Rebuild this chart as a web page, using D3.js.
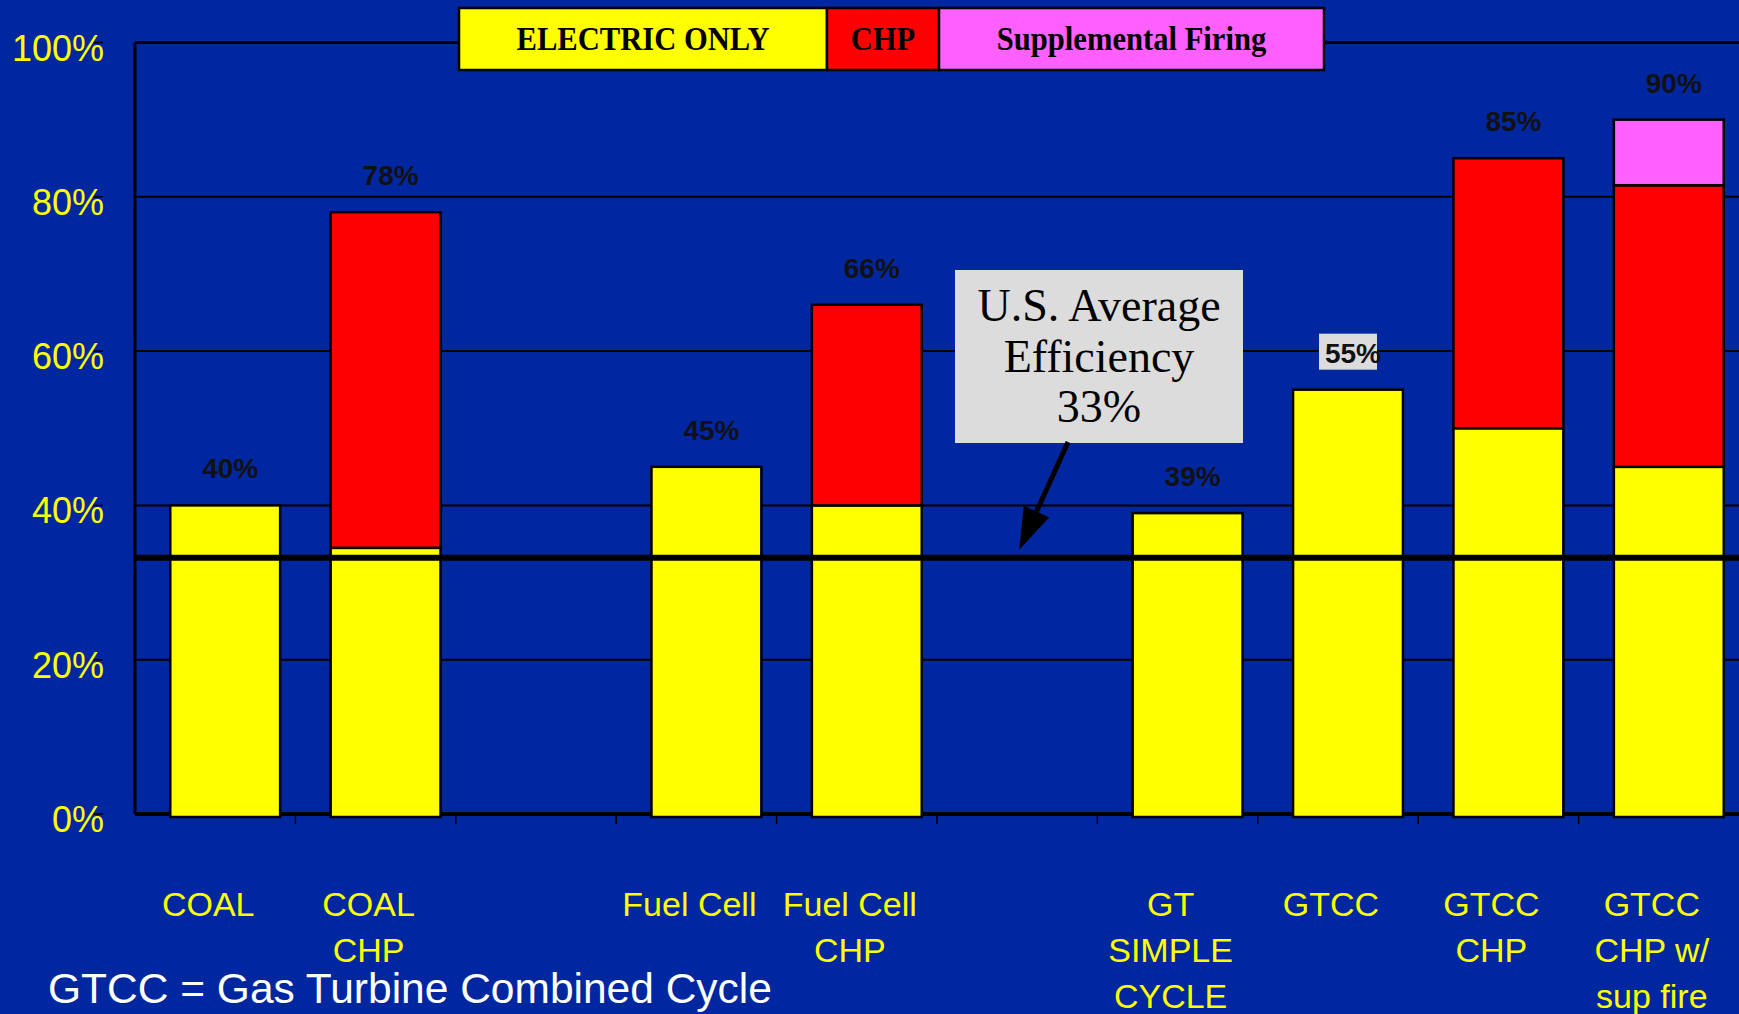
<!DOCTYPE html>
<html>
<head>
<meta charset="utf-8">
<script src="https://cdnjs.cloudflare.com/ajax/libs/d3/7.8.5/d3.min.js"></script>
<style>
  body { margin: 0; background: #0027a0; }
  svg { display: block; }
</style>
</head>
<body>
<svg id="chart" width="1739" height="1014"></svg>
<script>
// categories (empty slots are spacer columns in the original)
var categories = ["COAL", "COAL CHP", "", "Fuel Cell", "Fuel Cell CHP", "", "GT SIMPLE CYCLE", "GTCC", "GTCC CHP", "GTCC CHP w/ sup fire"];
var catLines = [["COAL"], ["COAL", "CHP"], [], ["Fuel Cell"], ["Fuel Cell", "CHP"], [], ["GT", "SIMPLE", "CYCLE"], ["GTCC"], ["GTCC", "CHP"], ["GTCC", "CHP w/", "sup fire"]];

// series values (fraction of fuel energy)
var electricOnly = [0.40, 0.345, 0, 0.45, 0.40, 0, 0.39, 0.55, 0.50, 0.45];
var chp          = [0,    0.435, 0, 0,    0.26, 0, 0,    0,    0.35, 0.365];
var suppFiring   = [0,    0,     0, 0,    0,    0, 0,    0,    0,    0.085];
var totalLabels  = ["40%", "78%", "", "45%", "66%", "", "39%", "55%", "85%", "90%"];

var yTicks = [0, 0.2, 0.4, 0.6, 0.8, 1.0];
var usAverage = 0.332;

var seriesKeys = ["electric", "chp", "sup"];
var seriesNames = ["ELECTRIC ONLY", "CHP", "Supplemental Firing"];
var seriesColors = ["#ffff00", "#ff0000", "#ff60ff"];

var svg = d3.select("#chart");

var rows = categories.map(function(c, i) {
	return { key: String(i), name: c, electric: electricOnly[i], chp: chp[i], sup: suppFiring[i] };
});

var x = d3.scaleBand()
	.domain(rows.map(function(d) { return d.key; }))
	.range([135, 1739])
	.padding(0);

var y = d3.scaleLinear()
	.domain([0, 1])
	.range([814, 42.5]);

var bw = x.bandwidth();
var barW = bw * 0.685;
var barShift = 10;

// gridlines
svg.append("g")
	.selectAll("line")
	.data(yTicks)
	.enter().append("line")
	.attr("x1", 135)
	.attr("x2", 1739)
	.attr("y1", function(d) { return y(d); })
	.attr("y2", function(d) { return y(d); })
	.attr("stroke", "#000")
	.attr("stroke-width", function(d) { return d === 1 ? 3 : (d === 0 ? 4 : 2); });

// small y ticks next to the labels
svg.append("g")
	.selectAll("line")
	.data(yTicks)
	.enter().append("line")
	.attr("x1", 93)
	.attr("x2", 103)
	.attr("y1", function(d) { return y(d); })
	.attr("y2", function(d) { return y(d); })
	.attr("stroke", "#000")
	.attr("stroke-width", 1.5);

// y axis line
svg.append("line")
	.attr("x1", 135).attr("x2", 135)
	.attr("y1", y(1)).attr("y2", y(0))
	.attr("stroke", "#000").attr("stroke-width", 3);

// x ticks
svg.append("g")
	.selectAll("line")
	.data(rows.slice(1))
	.enter().append("line")
	.attr("x1", function(d) { return x(d.key); })
	.attr("x2", function(d) { return x(d.key); })
	.attr("y1", y(0))
	.attr("y2", y(0) + 10)
	.attr("stroke", "#000")
	.attr("stroke-width", 1.5);

// y labels
svg.append("g")
	.selectAll("text")
	.data(yTicks)
	.enter().append("text")
	.attr("x", 104)
	.attr("y", function(d) { return y(d) + 18; })
	.attr("text-anchor", "end")
	.attr("fill", "#ffff00")
	.style("font-family", "'Liberation Sans', Arial, sans-serif")
	.style("font-size", "36px")
	.text(function(d) { return d3.format(".0%")(d); });

// stacked bars
var stacked = d3.stack().keys(seriesKeys)(rows);

svg.append("g")
	.selectAll("g")
	.data(stacked)
	.enter().append("g")
	.attr("fill", function(d, i) { return seriesColors[i]; })
	.selectAll("rect")
	.data(function(d) { return d.filter(function(s) { return s[1] - s[0] > 0; }); })
	.enter().append("rect")
	.attr("x", function(d) { return x(d.data.key) + (bw - barW) / 2 + barShift; })
	.attr("width", barW)
	.attr("y", function(d) { return y(d[1]); })
	.attr("height", function(d) { return y(d[0]) - y(d[1]) + (d[0] === 0 ? 3 : 0); })
	.attr("stroke", "#000")
	.attr("stroke-width", 2.5);

// U.S. average line
svg.append("line")
	.attr("x1", 135).attr("x2", 1739)
	.attr("y1", y(usAverage)).attr("y2", y(usAverage))
	.attr("stroke", "#000")
	.attr("stroke-width", 6);

// total labels
var totals = rows.map(function(d, i) { return { key: d.key, total: d.electric + d.chp + d.sup, label: totalLabels[i] }; })
	.filter(function(d) { return d.label !== ""; });

var lab = svg.append("g").selectAll("g")
	.data(totals)
	.enter().append("g");

lab.filter(function(d) { return d.label === "55%"; })
	.append("rect")
	.attr("x", function(d) { return x(d.key) + bw / 2 + barShift - 29; })
	.attr("y", function(d) { return y(d.total) - 56; })
	.attr("width", 58)
	.attr("height", 36)
	.attr("fill", "#dcdcdc");

lab.append("text")
	.attr("x", function(d) { return x(d.key) + bw / 2 + barShift + 5; })
	.attr("y", function(d) { return y(d.total) - 27; })
	.attr("text-anchor", "middle")
	.attr("fill", "#111")
	.style("font-family", "'Liberation Sans', Arial, sans-serif")
	.style("font-size", "28px")
	.style("font-weight", "bold")
	.text(function(d) { return d.label; });

// category labels
var cat = svg.append("g").selectAll("text")
	.data(rows)
	.enter().append("text")
	.attr("text-anchor", "middle")
	.attr("fill", "#ffff00")
	.style("font-family", "'Liberation Sans', Arial, sans-serif")
	.style("font-size", "34px");

cat.selectAll("tspan")
	.data(function(d, i) { return catLines[i].map(function(t) { return { t: t, key: d.key }; }); })
	.enter().append("tspan")
	.attr("x", function(d) { return x(d.key) + bw / 2 - 7; })
	.attr("y", function(d, j) { return 916 + j * 46; })
	.text(function(d) { return d.t; });

// annotation
var tipX = x("5") + bw / 2 + 2, tipY = y(usAverage) - 8;
var boxX = 955, boxY = 270, boxW = 288, boxH = 173;
svg.append("rect")
	.attr("x", boxX).attr("y", boxY)
	.attr("width", boxW).attr("height", boxH)
	.attr("fill", "#dcdcdc");

svg.append("text")
	.attr("text-anchor", "middle")
	.attr("fill", "#000")
	.style("font-family", "'Liberation Serif', 'Times New Roman', serif")
	.style("font-size", "46px")
	.selectAll("tspan")
	.data(["U.S. Average", "Efficiency", d3.format(".0%")(0.33)])
	.enter().append("tspan")
	.attr("x", boxX + boxW / 2)
	.attr("y", function(d, i) { return 321 + i * 50.5; })
	.text(function(d) { return d; });

var sx = 1068, sy = 442;
var dx = tipX - sx, dy = tipY - sy, len = Math.sqrt(dx * dx + dy * dy);
var ux = dx / len, uy = dy / len;
var headL = 42, headW = 14;
var bx = tipX - ux * headL, by = tipY - uy * headL;
svg.append("line")
	.attr("x1", sx).attr("y1", sy)
	.attr("x2", bx + ux * 4).attr("y2", by + uy * 4)
	.attr("stroke", "#000").attr("stroke-width", 5);
svg.append("path")
	.attr("d", "M" + tipX + "," + tipY + "L" + (bx - uy * headW) + "," + (by + ux * headW) + "L" + (bx + uy * headW) + "," + (by - ux * headW) + "Z")
	.attr("fill", "#000");

// legend
var legendX = [459, 827, 939, 1324];
var legend = svg.append("g").selectAll("g")
	.data(seriesNames)
	.enter().append("g");

legend.append("rect")
	.attr("x", function(d, i) { return legendX[i]; })
	.attr("y", 8)
	.attr("width", function(d, i) { return legendX[i + 1] - legendX[i]; })
	.attr("height", 62)
	.attr("fill", function(d, i) { return seriesColors[i]; })
	.attr("stroke", "#000")
	.attr("stroke-width", 2.5);

// the legend type is a tall, narrow bold serif
legend.append("text")
	.attr("transform", function(d, i) { return "translate(" + ((legendX[i] + legendX[i + 1]) / 2) + ",50) scale(0.9,1)"; })
	.attr("text-anchor", "middle")
	.attr("fill", "#000")
	.style("font-family", "'Liberation Serif', 'Times New Roman', serif")
	.style("font-size", "34px")
	.style("font-weight", "bold")
	.text(function(d) { return d; });

// footnote
svg.append("text")
	.attr("x", 48)
	.attr("y", 1003)
	.attr("fill", "#fff")
	.style("font-family", "'Liberation Sans', Arial, sans-serif")
	.style("font-size", "42.5px")
	.text("GTCC = Gas Turbine Combined Cycle");
</script>
</body>
</html>
